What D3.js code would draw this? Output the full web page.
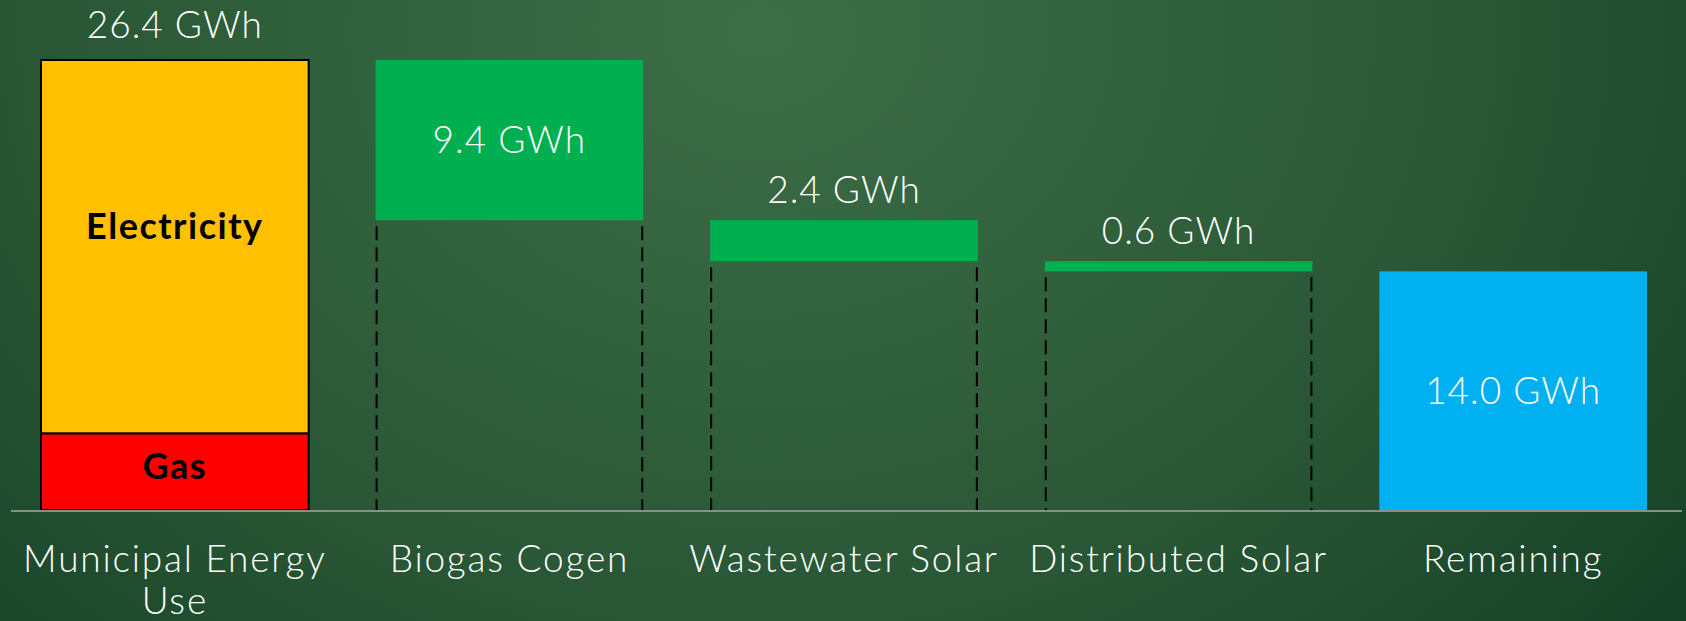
<!DOCTYPE html>
<html>
<head>
<meta charset="utf-8">
<script src="https://cdn.jsdelivr.net/npm/d3@7"></script>
<style>
  html, body { margin: 0; padding: 0; overflow: hidden; }
  body { width: 1686px; height: 621px; }
  text { font-family: "Lato", "Open Sans", sans-serif; }
</style>
</head>
<body>
<script>
// chart size, same as the slide crop
var width = 1686,
	height = 621;

// categories along the bottom
var categories = ["Municipal Energy Use", "Biogas Cogen", "Wastewater Solar", "Distributed Solar", "Remaining"];

// municipal use split into gas + electricity (GWh)
var useParts = ["Gas", "Electricity"];
var useValues = [4.5, 21.9];
var useTotal = 26.4;

// offsets taken off the total (GWh)
var offsetNames = ["Biogas Cogen", "Wastewater Solar", "Distributed Solar"];
var offsetValues = [9.4, 2.4, 0.6];

// what is left
var remaining = 14.0;

var partColors = { "Gas": "#ff0000", "Electricity": "#ffc000" };

var svg = d3.select('body')
	.append('svg')
	.attr('width', width)
	.attr('height', height);

// background gradient like the slide
var defs = svg.append('defs');
var grad = defs.append('radialGradient')
	.attr('id', 'bg')
	.attr('cx', '0.45').attr('cy', '0.05')
	.attr('r', '0.75')
	.attr('gradientTransform', 'translate(0.45,0.05) scale(1,2.2) translate(-0.45,-0.05)');
grad.append('stop').attr('offset', '0%').attr('stop-color', '#3d6d47');
grad.append('stop').attr('offset', '55%').attr('stop-color', '#2a5836');
grad.append('stop').attr('offset', '100%').attr('stop-color', '#113d23');

svg.append('rect')
	.attr('width', width)
	.attr('height', height)
	.attr('fill', 'url(#bg)');

// scales
var x = d3.scaleBand()
	.domain(categories)
	.range([41, 1647])
	.paddingInner(0.2)
	.paddingOuter(0);

var y = d3.scaleLinear()
	.domain([0, useTotal])
	.range([510, 60]);

// stacked municipal bar
var stack = [];
var acc = 0;
useParts.forEach(function(p, i) {
	stack.push({ name: p, y0: acc, y1: acc + useValues[i] });
	acc += useValues[i];
});

var g = svg.append('g');

g.selectAll('rect.use')
	.data(stack)
	.enter().append('rect')
	.attr('class', 'use')
	.attr('x', x(categories[0]))
	.attr('width', x.bandwidth())
	.attr('y', function(d) { return y(d.y1); })
	.attr('height', function(d) { return y(d.y0) - y(d.y1); })
	.attr('fill', function(d) { return partColors[d.name]; })
	.attr('stroke', '#000')
	.attr('stroke-width', 2);

g.selectAll('text.part')
	.data(stack)
	.enter().append('text')
	.attr('class', 'part')
	.attr('x', x(categories[0]) + x.bandwidth() / 2)
	.attr('y', function(d) {
		return d.name === 'Gas' ? (y(d.y0) + y(d.y1)) / 2 + 7 : (y(d.y0) + y(d.y1)) / 2 - 8;
	})
	.attr('text-anchor', 'middle')
	.attr('font-size', 36)
	.attr('font-weight', 'bold')
	.attr('letter-spacing', 1.5)
	.attr('fill', '#000')
	.text(function(d) { return d.name; });

// waterfall steps
var steps = [];
var run = useTotal;
offsetNames.forEach(function(n, i) {
	steps.push({ name: n, value: offsetValues[i], top: run, bottom: run - offsetValues[i] });
	run -= offsetValues[i];
});

// dashed drop lines under each offset bar (both sides)
var drops = [];
steps.forEach(function(s) {
	drops.push({ xv: x(s.name) + 1, s: s });
	drops.push({ xv: x(s.name) + x.bandwidth() - 1, s: s });
});

g.selectAll('line.drop')
	.data(drops)
	.enter().append('line')
	.attr('class', 'drop')
	.attr('x1', function(d) { return d.xv; })
	.attr('x2', function(d) { return d.xv; })
	.attr('y1', function(d) { return y(d.s.bottom) + 6; })
	.attr('y2', y(0))
	.attr('stroke', '#000')
	.attr('stroke-width', 2)
	.attr('stroke-dasharray', '14,7');

g.selectAll('rect.step')
	.data(steps)
	.enter().append('rect')
	.attr('class', 'step')
	.attr('x', function(d) { return x(d.name); })
	.attr('width', x.bandwidth())
	.attr('y', function(d) { return y(d.top); })
	.attr('height', function(d) { return y(d.bottom) - y(d.top); })
	.attr('fill', '#00b050');

// remaining bar
g.append('rect')
	.attr('x', x(categories[4]))
	.attr('width', x.bandwidth())
	.attr('y', y(remaining))
	.attr('height', y(0) - y(remaining))
	.attr('fill', '#00b0f0');

// axis line
svg.append('line')
	.attr('x1', 11).attr('x2', 1682)
	.attr('y1', y(0) + 1).attr('y2', y(0) + 1)
	.attr('stroke', '#8c8c8c')
	.attr('stroke-width', 2);

// value labels
var valueLabels = [
	{ cat: categories[0], text: useTotal.toFixed(1) + ' GWh', y: y(useTotal) - 22 },
	{ cat: steps[0].name, text: steps[0].value.toFixed(1) + ' GWh', y: (y(steps[0].top) + y(steps[0].bottom)) / 2 + 13 },
	{ cat: steps[1].name, text: steps[1].value.toFixed(1) + ' GWh', y: y(steps[1].top) - 17 },
	{ cat: steps[2].name, text: steps[2].value.toFixed(1) + ' GWh', y: y(steps[2].top) - 17 },
	{ cat: categories[4], text: remaining.toFixed(1) + ' GWh', y: (y(remaining) + y(0)) / 2 + 13 }
];

svg.selectAll('text.val')
	.data(valueLabels)
	.enter().append('text')
	.attr('class', 'val')
	.attr('x', function(d) { return x(d.cat) + x.bandwidth() / 2; })
	.attr('y', function(d) { return d.y; })
	.attr('text-anchor', 'middle')
	.attr('font-size', 37)
	.attr('font-weight', 300)
	.attr('letter-spacing', 1)
	.attr('fill', '#fff')
	.text(function(d) { return d.text; });

// category labels, first one wraps
var wrapped = { "Municipal Energy Use": ["Municipal Energy", "Use"] };

var cat = svg.selectAll('text.cat')
	.data(categories)
	.enter().append('text')
	.attr('class', 'cat')
	.attr('x', function(d) { return x(d) + x.bandwidth() / 2; })
	.attr('y', 572)
	.attr('text-anchor', 'middle')
	.attr('font-size', 37)
	.attr('font-weight', 300)
	.attr('letter-spacing', 1.8)
	.attr('fill', '#fff');

cat.each(function(d) {
	var lines = wrapped[d] || [d];
	var t = d3.select(this);
	lines.forEach(function(l, i) {
		t.append('tspan')
			.attr('x', x(d) + x.bandwidth() / 2)
			.attr('dy', i === 0 ? 0 : 42)
			.text(l);
	});
});
</script>
</body>
</html>
